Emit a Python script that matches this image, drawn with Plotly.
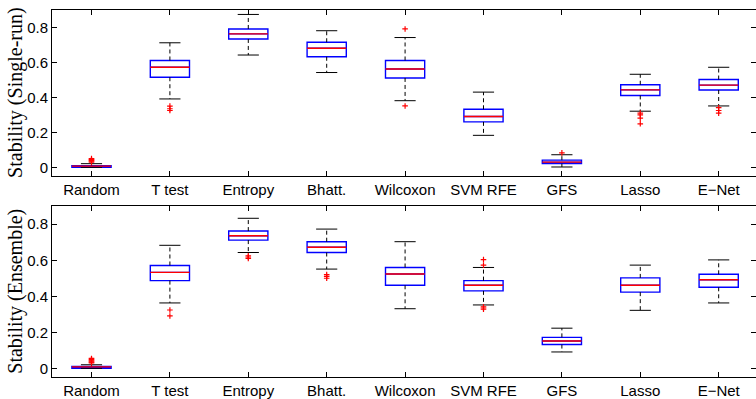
import plotly.graph_objects as go

methods = ["Random", "T test", "Entropy", "Bhatt.", "Wilcoxon", "SVM RFE", "GFS", "Lasso", "E\u2212Net"]
positions = list(range(1, 10))

# Single-run stability
single_q1 = [0.000, 0.515, 0.734, 0.632, 0.511, 0.260, 0.021, 0.411, 0.442]
single_med = [0.007, 0.572, 0.763, 0.681, 0.562, 0.291, 0.030, 0.443, 0.470]
single_q3 = [0.010, 0.611, 0.791, 0.715, 0.611, 0.332, 0.041, 0.472, 0.502]
single_lo = [0.000, 0.391, 0.642, 0.542, 0.381, 0.183, 0.002, 0.321, 0.351]
single_hi = [0.021, 0.712, 0.874, 0.781, 0.742, 0.430, 0.072, 0.532, 0.572]
single_out = [[0.030, 0.035, 0.040, 0.045, 0.050], [0.325, 0.335, 0.350], [], [],
              [0.351, 0.791], [], [0.083], [0.249, 0.281, 0.300, 0.310], [0.310, 0.325, 0.341]]

# Ensemble stability
ens_q1 = [0.000, 0.487, 0.712, 0.643, 0.461, 0.430, 0.132, 0.423, 0.450]
ens_med = [0.008, 0.533, 0.736, 0.672, 0.524, 0.461, 0.152, 0.461, 0.492]
ens_q3 = [0.011, 0.571, 0.762, 0.703, 0.560, 0.487, 0.172, 0.502, 0.522]
ens_lo = [0.000, 0.363, 0.643, 0.551, 0.331, 0.352, 0.091, 0.322, 0.363]
ens_hi = [0.020, 0.683, 0.833, 0.773, 0.703, 0.560, 0.223, 0.573, 0.602]
ens_out = [[0.030, 0.035, 0.040, 0.045, 0.050, 0.055], [0.291, 0.324], [0.610, 0.618, 0.625],
           [0.500, 0.510, 0.520], [], [0.328, 0.335, 0.342, 0.573, 0.604], [], [], []]

ytick_vals = [0, 0.2, 0.4, 0.6, 0.8]
ytick_text = ["0", "0.2", "0.4", "0.6", "0.8"]
ylabels = ["Stability (Single-run)", "Stability (Ensemble)"]
y_range = [-0.049, 0.9]

BOX_W = 0.5
CAP_W = 0.27

fig = go.Figure()

def add_panel(q1, med, q3, lo, hi, outs, xa, ya):
    # whiskers
    wx, wy = [], []
    for p, a, b, c, d in zip(positions, q1, q3, lo, hi):
        wx += [p, p, None, p, p, None]
        wy += [b, d, None, a, c, None]
    fig.add_trace(go.Scatter(x=wx, y=wy, mode="lines", xaxis=xa, yaxis=ya,
                             line=dict(color="black", width=1, dash="4px,3px"),
                             hoverinfo="skip", showlegend=False))
    # caps
    cx, cy = [], []
    for p, c, d in zip(positions, lo, hi):
        cx += [p - CAP_W / 2, p + CAP_W / 2, None, p - CAP_W / 2, p + CAP_W / 2, None]
        cy += [d, d, None, c, c, None]
    fig.add_trace(go.Scatter(x=cx, y=cy, mode="lines", xaxis=xa, yaxis=ya,
                             line=dict(color="black", width=1),
                             hoverinfo="skip", showlegend=False))
    # boxes
    fig.add_trace(go.Box(x=positions, q1=q1, median=med, q3=q3,
                         lowerfence=q1, upperfence=q3, width=BOX_W,
                         xaxis=xa, yaxis=ya, boxpoints=False,
                         line=dict(color="#0000ff", width=1.4),
                         fillcolor="rgba(0,0,0,0)", showlegend=False))
    # medians
    mx, my = [], []
    for p, m in zip(positions, med):
        mx += [p - BOX_W / 2, p + BOX_W / 2, None]
        my += [m, m, None]
    fig.add_trace(go.Scatter(x=mx, y=my, mode="lines", xaxis=xa, yaxis=ya,
                             line=dict(color="#ff0000", width=1.4),
                             hoverinfo="skip", showlegend=False))
    # outliers
    ox, oy = [], []
    for p, o in zip(positions, outs):
        ox += [p] * len(o)
        oy += o
    fig.add_trace(go.Scatter(x=ox, y=oy, mode="markers", xaxis=xa, yaxis=ya,
                             marker=dict(symbol="cross-thin", size=4, color="#ff0000",
                                         line=dict(color="#ff0000", width=1.2)),
                             hoverinfo="skip", showlegend=False))

add_panel(single_q1, single_med, single_q3, single_lo, single_hi, single_out, "x", "y")
add_panel(ens_q1, ens_med, ens_q3, ens_lo, ens_hi, ens_out, "x2", "y2")

W, H = 756, 399
left = 52.3 / W
top_dom = [1 - 177.7 / H, 1 - 10 / H]
bot_dom = [1 - 381 / H, 1 - 208.3 / H]

tickfont = dict(family="Liberation Sans, Arial, sans-serif", size=15, color="black")
xcommon = dict(range=[0.5, 9.476], tickvals=positions, ticktext=methods,
               ticks="inside", ticklen=5, tickcolor="black", tickwidth=1,
               showline=True, linecolor="black", linewidth=1.3, mirror="ticks",
               showgrid=False, zeroline=False, tickfont=tickfont, domain=[left, 1])
ycommon = dict(range=y_range, tickvals=ytick_vals, ticktext=ytick_text,
               ticks="inside", ticklen=5, tickcolor="black", tickwidth=1,
               showline=True, linecolor="black", linewidth=1.3,
               showgrid=False, zeroline=False, tickfont=tickfont)
yright = dict(range=y_range, tickvals=ytick_vals, ticks="inside", ticklen=5,
              tickcolor="black", tickwidth=1, showline=False, showticklabels=False,
              showgrid=False, zeroline=False, side="right")

fig.update_layout(
    width=W, height=H,
    margin=dict(l=0, r=0, t=0, b=0),
    paper_bgcolor="white", plot_bgcolor="white",
    showlegend=False,
    xaxis=dict(**xcommon, anchor="y"),
    yaxis=dict(**ycommon, domain=top_dom, anchor="x"),
    xaxis2=dict(**xcommon, anchor="y2"),
    yaxis2=dict(**ycommon, domain=bot_dom, anchor="x2"),
    yaxis3=dict(**yright, overlaying="y", anchor="x"),
    yaxis4=dict(**yright, overlaying="y2", anchor="x2"),
)

# invisible anchors so the right-side tick axes are drawn
fig.add_trace(go.Scatter(x=[positions[0]], y=[ytick_vals[0]], xaxis="x", yaxis="y3",
                         mode="markers", marker=dict(opacity=0), hoverinfo="skip",
                         showlegend=False))
fig.add_trace(go.Scatter(x=[positions[0]], y=[ytick_vals[0]], xaxis="x2", yaxis="y4",
                         mode="markers", marker=dict(opacity=0), hoverinfo="skip",
                         showlegend=False))

for lab, dom in zip(ylabels, [top_dom, bot_dom]):
    fig.add_annotation(text=lab, xref="paper", yref="paper", x=16 / W,
                       y=(dom[0] + dom[1]) / 2, xanchor="center", yanchor="middle",
                       textangle=-90, showarrow=False,
                       font=dict(family="Liberation Serif, Times New Roman, serif",
                                 size=20, color="black"))

fig.write_html("out.html", config={"displayModeBar": False},
               post_script="document.body.style.margin='0';document.body.style.overflow='hidden';")
